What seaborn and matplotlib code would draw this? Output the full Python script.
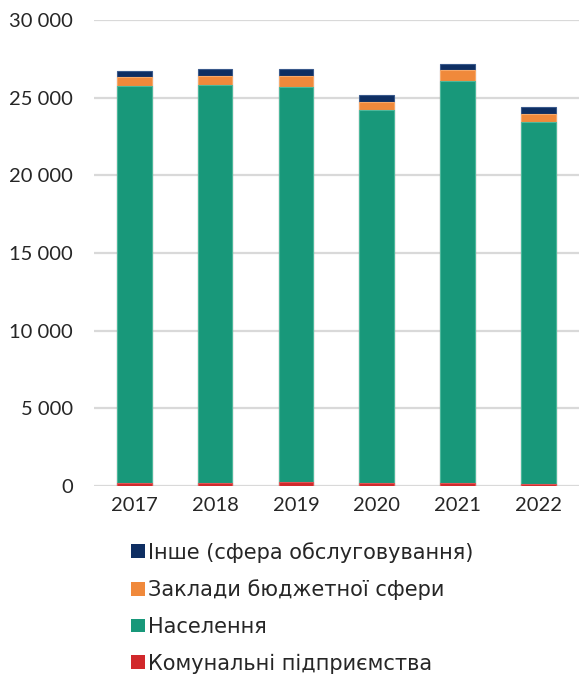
import numpy as np
import pandas as pd
import matplotlib
matplotlib.use("Agg")
import matplotlib.pyplot as plt
import seaborn as sns
from matplotlib.patches import Patch
from matplotlib.ticker import FuncFormatter

years = ["2017", "2018", "2019", "2020", "2021", "2022"]
komunalni = [220, 190, 230, 180, 190, 100]          # Комунальні підприємства
naselennia = [25540, 25630, 25450, 24020, 25850, 23340]  # Населення
zaklady = [580, 600, 700, 490, 710, 520]            # Заклади бюджетної сфери
inshe = [390, 440, 480, 450, 410, 410]              # Інше (сфера обслуговування)

labels = ["Інше (сфера обслуговування)", "Заклади бюджетної сфери",
          "Населення", "Комунальні підприємства"]
colors = ["#0E2E62", "#F0893B", "#18987A", "#D1282B"]
edges = ["#3A5A8C", "#F7A868", "#4DB89C", "#E05556"]

df = pd.DataFrame({"year": years, "k": komunalni, "n": naselennia,
                   "z": zaklady, "i": inshe})
# cumulative heights, drawn from the top series down so lower ones overlay
df["c_k"] = df["k"]
df["c_n"] = df["c_k"] + df["n"]
df["c_z"] = df["c_n"] + df["z"]
df["c_i"] = df["c_z"] + df["i"]

sns.set_theme(style="white")
plt.rcParams["font.family"] = ["Lato", "DejaVu Sans"]

fig = plt.figure(figsize=(5.79, 6.77), dpi=100)
ax = fig.add_axes([0.162, 0.2821, 0.838, 0.6884])

for col, c, e in zip(["c_i", "c_z", "c_n", "c_k"], colors, edges):
    sns.barplot(data=df, x="year", y=col, color=c, width=0.43, ax=ax,
                edgecolor=e, linewidth=0.8, saturation=1)

ax.set_ylim(0, 30000)
ax.set_xlim(-0.5, 5.5)
ax.set_yticks(range(0, 30001, 5000))
ax.yaxis.set_major_formatter(FuncFormatter(lambda v, p: f"{int(v):,}".replace(",", " ")))
ax.grid(axis="y", color="#D9D9D9", linewidth=1.6)
ax.set_axisbelow(True)
for s in ax.spines.values():
    s.set_visible(False)
ax.set_xlabel("")
ax.set_ylabel("")
ax.tick_params(axis="both", length=0, labelsize=14.5, colors="#262626")
ax.tick_params(axis="y", pad=15)
ax.tick_params(axis="x", pad=8)

handles = [Patch(facecolor=c, edgecolor="none") for c in colors]
fig.legend(handles, labels, loc="upper left", bbox_to_anchor=(0.212, 0.212),
           frameon=False, handlelength=0.65, handleheight=0.65,
           handletextpad=0.15, labelspacing=0.8, borderaxespad=0,
           labelcolor="#262626",
           prop={"family": ["DejaVu Sans"], "size": 15})

fig.savefig("out.png", dpi=100)
